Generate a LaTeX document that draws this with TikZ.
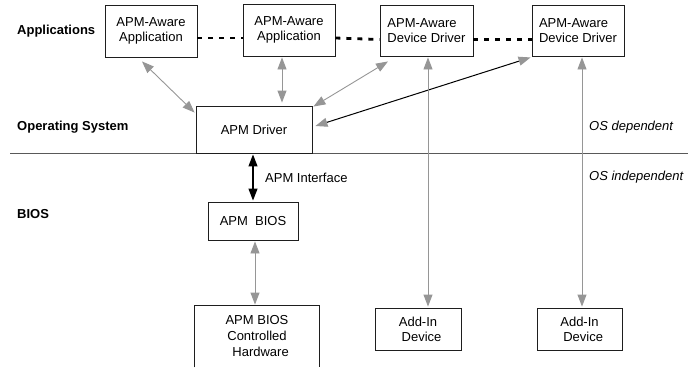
\documentclass[tikz,border=0pt]{standalone}
\usepackage{fontspec}
\setmainfont{Liberation Sans}
\usetikzlibrary{arrows.meta}
\definecolor{gr}{RGB}{150,150,150}
\definecolor{bd}{RGB}{30,30,30}
\tikzset{
  box/.style={draw=bd,line width=0.9pt,inner sep=0pt,align=center,font=\fontsize{13}{15}\selectfont},
  lbox/.style={box,align=left},
  lbl/.style={anchor=west,inner sep=0pt,font=\fontsize{13}{15}\selectfont},
  head/.style={lbl,font=\fontsize{13}{15}\selectfont\bfseries},
  ital/.style={lbl,font=\fontsize{13}{15}\selectfont\itshape},
  garrow/.style={draw=gr,line width=0.9pt,{Triangle[length=12pt,width=9pt]}-{Triangle[length=12pt,width=9pt]}},
  barrow/.style={draw=black,line width=1pt,{Triangle[length=12pt,width=9pt,color=gr]}-{Triangle[length=12pt,width=9pt,color=gr]}},
  karrow/.style={draw=black,line width=1.2pt,{Triangle[length=12pt,width=9pt]}-{Triangle[length=12pt,width=9pt]}},
  dots/.style={draw=black,line width=2.8pt,dash pattern=on 5pt off 6pt},
}
\begin{document}
\begin{tikzpicture}[x=1pt,y=-1pt]
\useasboundingbox (0,0) rectangle (688,367);
% layer labels
\node[head] (lapp) at (17,31) {Applications};
\node[head] (los) at (17,127) {Operating System};
\node[head] (lbios) at (17,214) {BIOS};
\node[ital] (dep) at (589,127) {OS dependent};
\node[ital] (indep) at (589,177) {OS independent};
% separator
\coordinate (sepL) at (10,153);
\coordinate (sepR) at (688,153);
\draw[draw=black!65,line width=0.9pt] (sepL) -- (sepR);
% boxes
\node[box,minimum width=92pt,minimum height=52pt] (a1) at (151,31) {APM-Aware\\Application};
\node[box,minimum width=92pt,minimum height=52pt] (a2) at (289,30) {APM-Aware\\Application};
\node[lbox,minimum width=93pt,minimum height=51pt] (a3) at (426.5,30.5) {APM-Aware\\Device Driver};
\node[lbox,minimum width=92pt,minimum height=51pt] (a4) at (578,30.5) {APM-Aware\\Device Driver};
\node[box,minimum width=116pt,minimum height=47pt,fill=white] (drv) at (254,129.5) {APM Driver};
\node[box,minimum width=90pt,minimum height=38pt] (bios) at (253,221) {APM\ \ BIOS};
\node[box,draw=none,minimum width=124pt,minimum height=61pt,font=\fontsize{13}{16}\selectfont] (hw) at (257,336.5) {APM BIOS\\Controlled\\\ \ Hardware};
\draw[draw=bd,line width=0.9pt] (hw.south west) -- (hw.north west) -- (hw.north east) -- (hw.south east);
\node[box,minimum width=86pt,minimum height=42pt] (d1) at (418,329) {Add-In\\\ \ Device};
\node[box,minimum width=85pt,minimum height=42pt] (d2) at (579.5,329) {Add-In\\\ \ Device};
% dotted links
\draw[dots] ([yshift=-7pt]a1.east) -- ([yshift=-8pt]a2.west);
\draw[dots] ([yshift=-8pt]a2.east) -- ([yshift=-9pt]a3.west);
\draw[dots] ([yshift=-9pt]a3.east) -- ([yshift=-9pt]a4.west);
% arrows
\draw[garrow] ([xshift=-9pt,yshift=-4pt]a1.south) -- ([xshift=-1pt,yshift=-7pt]drv.north west);
\draw[garrow] ([xshift=-7pt,yshift=-1pt]a2.south) -- ([xshift=28pt,yshift=3pt]drv.north);
\draw[garrow] ([xshift=-38.5pt,yshift=-5pt]a3.south) -- ([xshift=1pt,yshift=-1pt]drv.north east);
\draw[barrow] ([xshift=-1pt,yshift=-1pt]a4.south west) -- ([xshift=3pt,yshift=3.5pt]drv.east);
\draw[karrow] ([xshift=-1pt,yshift=-1pt]drv.south) -- ([yshift=1pt]bios.north);
\node[lbl] (iface) at (265,178) {APM Interface};
\draw[garrow] ([xshift=2pt,yshift=-1pt]bios.south) -- ([xshift=-2pt,yshift=1pt]hw.north);
\draw[garrow] ([xshift=1.5pt,yshift=-1pt]a3.south) -- ([xshift=10pt,yshift=1pt]d1.north);
\draw[garrow] ([xshift=4pt,yshift=-1pt]a4.south) -- ([xshift=2.5pt,yshift=1pt]d2.north);
\end{tikzpicture}
\end{document}
